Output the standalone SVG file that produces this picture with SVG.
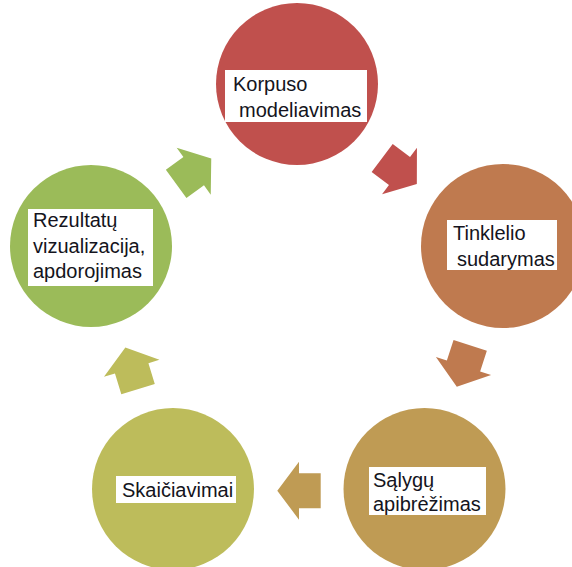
<svg xmlns="http://www.w3.org/2000/svg" width="572" height="567" viewBox="0 0 572 567">
<style>
.lbl{fill:#ffffff}
.t{font-family:"Liberation Sans",Arial,sans-serif;font-size:20px;fill:#141420}
</style>
<defs>
<polygon id="arr" points="-21.7,-17.5 0,-17.5 0,-29 21.7,0 0,29 0,17.5 -21.7,17.5"/>
<clipPath id="clipT"><rect x="447" y="220" width="110" height="50"/></clipPath>
</defs>
<rect width="572" height="567" fill="#ffffff"/>
<g id="connectors">
<use href="#arr" fill="#C0504D" transform="translate(399.5,171) rotate(37)"/>
<use href="#arr" fill="#BF7A4F" transform="translate(463.5,366) rotate(108)"/>
<use href="#arr" fill="#BF9B54" transform="translate(299,490.7) rotate(180)"/>
<use href="#arr" fill="#BDBC5B" transform="translate(131.7,368.3) rotate(253)"/>
<use href="#arr" fill="#9BBB59" transform="translate(193.7,171.2) rotate(-36)"/>
</g>
<g id="korpuso">
<circle cx="297" cy="84" r="81" fill="#C0504D"/>
<rect class="lbl" x="225" y="70" width="142" height="52"/>
<text class="t" x="233" y="91">Korpuso</text>
<text class="t" x="239" y="117">modeliavimas</text>
</g>
<g id="tinklelio">
<circle cx="503" cy="246" r="82" fill="#BF7A4F"/>
<rect class="lbl" x="447" y="220" width="110" height="50"/>
<g clip-path="url(#clipT)">
<text class="t" x="453" y="240">Tinklelio</text>
<text class="t" x="457" y="266">sudarymas</text>
</g>
</g>
<g id="salygu">
<circle cx="424.5" cy="489" r="81" fill="#BF9B54"/>
<rect class="lbl" x="369" y="467" width="117" height="48"/>
<text class="t" x="373" y="487">Sąlygų</text>
<text class="t" x="373" y="511">apibrėžimas</text>
</g>
<g id="skaiciavimai">
<circle cx="173" cy="489" r="81" fill="#BDBC5B"/>
<rect class="lbl" x="116" y="476" width="120" height="27"/>
<text class="t" x="122" y="497">Skaičiavimai</text>
</g>
<g id="rezultatu">
<circle cx="91" cy="246" r="81" fill="#9BBB59"/>
<rect class="lbl" x="28" y="209" width="125" height="77"/>
<text class="t" x="33" y="227">Rezultatų</text>
<text class="t" x="33" y="253">vizualizacija,</text>
<text class="t" x="33" y="278">apdorojimas</text>
</g>
</svg>
